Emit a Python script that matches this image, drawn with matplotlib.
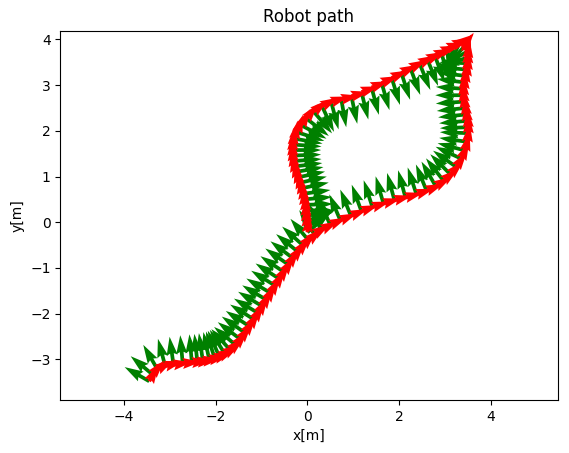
import numpy as np
import matplotlib
matplotlib.use("Agg")
import matplotlib.pyplot as plt

# Robot poses: position, heading (red arrows) and lateral direction (green arrows), degrees
path_x = [-3.45, -3.38, -3.27, -3.10, -2.92, -2.72, -2.52, -2.40, -2.28, -2.14, -2.02, -1.92,
          -1.80, -1.68, -1.56, -1.46, -1.36, -1.26, -1.16, -1.07, -0.98, -0.89, -0.80, -0.70,
          -0.61, -0.51, -0.41, -0.31, -0.20, -0.09, 0.03,
          0.15, 0.32, 0.50, 0.72, 0.95, 1.18, 1.42, 1.66, 1.90, 2.14, 2.38, 2.60, 2.80, 2.97,
          3.12, 3.25, 3.36, 3.44, 3.49, 3.51,
          3.51, 3.49, 3.47, 3.44, 3.42, 3.41, 3.42, 3.44, 3.47, 3.49, 3.50,
          3.50, 3.46, 3.40, 3.30, 3.18, 3.05, 2.92, 2.78, 2.62, 2.45, 2.25, 2.05, 1.84, 1.62,
          1.40, 1.18, 0.96, 0.74, 0.52, 0.32, 0.14, -0.02, -0.13, -0.22,
          -0.28, -0.31, -0.32, -0.32, -0.31, -0.29, -0.26, -0.22, -0.18, -0.14, -0.11, -0.08,
          -0.06, -0.04, -0.03, -0.02, -0.01, 0.00]
path_y = [-3.48, -3.33, -3.22, -3.15, -3.12, -3.09, -3.07, -3.06, -3.04, -3.01, -2.98, -2.94,
          -2.88, -2.80, -2.69, -2.56, -2.42, -2.28, -2.13, -1.99, -1.84, -1.70, -1.55, -1.39,
          -1.24, -1.09, -0.93, -0.79, -0.65, -0.51, -0.40,
          -0.26, -0.16, -0.06, 0.04, 0.14, 0.24, 0.33, 0.41, 0.48, 0.54, 0.61, 0.69, 0.79, 0.91,
          1.05, 1.21, 1.39, 1.57, 1.76, 1.95,
          2.08, 2.22, 2.36, 2.50, 2.64, 2.78, 2.92, 3.06, 3.20, 3.34, 3.48,
          3.60, 3.72, 3.82, 3.88, 3.87, 3.81, 3.73, 3.65, 3.56, 3.47, 3.37, 3.27, 3.16, 3.05,
          2.95, 2.85, 2.76, 2.69, 2.63, 2.54, 2.42, 2.27, 2.12, 1.97,
          1.83, 1.70, 1.58, 1.46, 1.34, 1.22, 1.10, 0.98, 0.86, 0.74, 0.62, 0.50,
          0.38, 0.26, 0.14, 0.02, -0.10, -0.22]
heading_deg = [60, 50, 30, 15, 8, 5, 5, 6, 8, 12, 18, 24,
               32, 42, 50, 53, 55, 57, 58, 59, 59, 59, 59, 58,
               57, 56, 55, 53, 51, 48, 40,
               32, 27, 24, 23, 22, 20, 18, 16, 15, 15, 18, 22, 30, 38,
               45, 55, 65, 75, 82, 88,
               92, 95, 96, 96, 94, 90, 86, 83, 83, 85, 88,
               85, 75, 55, 35, 22, 18, 20, 22, 25, 27, 27, 26, 24, 22,
               20, 18, 14, 12, 18, 28, 40, 52, 62, 72,
               80, 86, 90, 92, 94, 97, 100, 102, 103, 102, 98, 95,
               92, 90, 89, 88, 86, 84]
lateral_deg = [150, 140, 120, 105, 98, 95, 95, 96, 98, 102, 108, 114,
               122, 132, 140, 143, 145, 147, 148, 149, 149, 149, 149, 148,
               147, 146, 145, 143, 141, 138, 130,
               122, 117, 114, 113, 112, 110, 108, 106, 105, 105, 108, 112, 120, 128,
               135, 145, 155, 165, 172, 178,
               182, 185, 186, 186, 184, 180, 176, 173, 173, 175, 178,
               195, 210, 228, 245, 262, 275, 285, 290, 292, 292, 290, 288, 287, 286,
               285, 284, 282, 280, 285, 295, 310, 322, 332, 342,
               350, 356, 0, 2, 4, 7, 10, 12, 13, 12, 8, 5,
               2, 0, 10, 20, 30, 40]

RED_LEN = 0.4
GREEN_LEN = 0.62

fig = plt.figure(figsize=(5.69, 4.53), dpi=100)
ax = fig.add_axes([0.106, 0.117, 0.874, 0.815])

px = np.array(path_x)
py = np.array(path_y)
h = np.radians(heading_deg)
g = np.radians(lateral_deg)

ax.quiver(px, py, GREEN_LEN * np.cos(g), GREEN_LEN * np.sin(g), color='g',
          angles='xy', scale_units='xy', scale=1, width=0.0075)
ax.quiver(px, py, RED_LEN * np.cos(h), RED_LEN * np.sin(h), color='r',
          angles='xy', scale_units='xy', scale=1, width=0.0075)

ax.set_xlim(-5.39, 5.46)
ax.set_ylim(-3.89, 4.19)
ax.set_xticks([-4, -2, 0, 2, 4])
ax.set_yticks([-3, -2, -1, 0, 1, 2, 3, 4])
ax.set_title("Robot path")
ax.set_xlabel("x[m]")
ax.set_ylabel("y[m]")

fig.savefig("out.png", dpi=100)
